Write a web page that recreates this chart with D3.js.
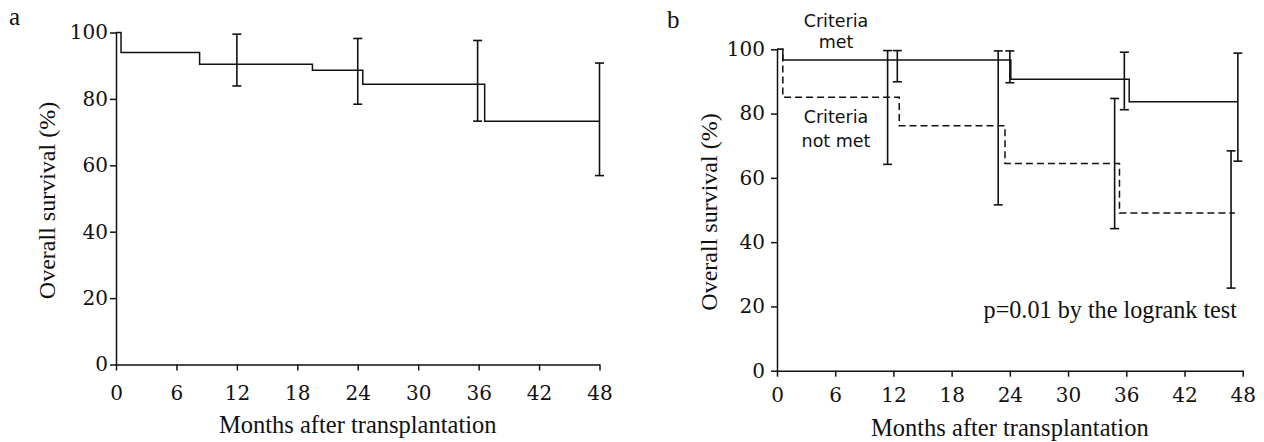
<!DOCTYPE html>
<html><head><meta charset="utf-8">
<script src="https://cdn.jsdelivr.net/npm/d3@7"></script>
<style>
body{margin:0;background:#fff}
text{fill:#111}
</style>
</head><body><svg id="c" width="1264" height="442"></svg>
<script>
// ---------- data ----------
const monthTicks = [0, 6, 12, 18, 24, 30, 36, 42, 48];
const survTicks = [0, 20, 40, 60, 80, 100];

// Panel a: overall survival (step points: time, survival after step)
const aStepTimes = [0, 0.5, 8.3, 19.5, 24.5, 36.6, 48];
const aStepSurv  = [100, 94.0, 90.4, 88.6, 84.4, 73.3, 73.3];
const aBarTimes  = [12.0, 24.0, 35.9, 48.0];
const aBarUpper  = [99.5, 98.2, 97.6, 90.8];
const aBarLower  = [83.9, 78.4, 73.3, 56.9];

// Panel b: criteria met (solid)
const metTimes   = [0, 0.6, 24.1, 36.3, 47.5];
const metSurv    = [100, 96.7, 90.7, 83.7, 83.7];
const metBarTimes = [12.4, 24.0, 35.8, 47.5];
const metBarUpper = [99.6, 99.5, 99.1, 98.8];
const metBarLower = [89.9, 89.6, 81.2, 65.2];

// Panel b: criteria not met (dashed)
const notTimes   = [0, 0.6, 12.6, 23.5, 35.3, 47.2];
const notSurv    = [100, 85.1, 76.2, 64.5, 49.1, 49.1];
const notBarTimes = [11.4, 22.8, 34.8, 46.8];
const notBarUpper = [99.6, 99.5, 84.7, 68.4];
const notBarLower = [64.2, 51.6, 44.2, 25.7];

const xTitle = "Months after transplantation";
const yTitle = "Overall survival (%)";
const pText = "p=0.01 by the logrank test";

// ---------- drawing ----------
const svg = d3.select("#c");
const SERIF = "'Liberation Serif', 'DejaVu Serif', serif";
const TICKFONT = "'DejaVu Serif', serif";
const SANS = "'DejaVu Sans', sans-serif";

function panel(cfg) {
  const x = d3.scaleLinear().domain([0, 48]).range([cfg.x0, cfg.x1]);
  const y = d3.scaleLinear().domain([0, 100]).range([cfg.y0, cfg.y1]);
  const g = svg.append("g");

  const ya = g.append("g").attr("transform", `translate(${cfg.x0},0)`)
    .call(d3.axisLeft(y).tickValues(survTicks).tickSize(6).tickSizeOuter(0).tickPadding(cfg.yPad));
  const xa = g.append("g").attr("transform", `translate(0,${cfg.y0})`)
    .call(d3.axisBottom(x).tickValues(monthTicks).tickSize(6).tickSizeOuter(0).tickPadding(cfg.xPad));
  [ya, xa].forEach(a => {
    a.selectAll("path,line").attr("stroke", "#111").attr("stroke-width", 1.5);
    a.selectAll("text").attr("font-family", TICKFONT).attr("font-size", 20).attr("fill", "#111");
  });

  const line = d3.line().x(d => x(d[0])).y(d => y(d[1])).curve(d3.curveStepAfter);
  cfg.curves.forEach(c => {
    g.append("path").datum(d3.zip(c.t, c.s)).attr("d", line)
      .attr("fill", "none").attr("stroke", "#111").attr("stroke-width", 1.5)
      .attr("stroke-dasharray", c.dash || null);
    const bars = d3.zip(c.bt, c.bl, c.bu);
    const bg = g.append("g").attr("stroke", "#111").attr("stroke-width", 1.6);
    bg.selectAll(".v").data(bars).join("line")
      .attr("x1", d => x(d[0])).attr("x2", d => x(d[0]))
      .attr("y1", d => y(d[1])).attr("y2", d => y(d[2]));
    bg.selectAll(".lo").data(bars).join("line")
      .attr("x1", d => x(d[0]) - 4.5).attr("x2", d => x(d[0]) + 4.5)
      .attr("y1", d => y(d[1])).attr("y2", d => y(d[1]));
    bg.selectAll(".hi").data(bars).join("line")
      .attr("x1", d => x(d[0]) - 4.5).attr("x2", d => x(d[0]) + 4.5)
      .attr("y1", d => y(d[2])).attr("y2", d => y(d[2]));
  });

  g.append("text").text(xTitle).attr("x", (cfg.x0 + cfg.x1) / 2).attr("y", cfg.xTitleY)
    .attr("text-anchor", "middle").attr("font-family", SERIF).attr("font-size", 24.5);
  g.append("text").text(yTitle)
    .attr("transform", `translate(${cfg.yTitleX},${(cfg.y0 + cfg.y1) / 2 + 2}) rotate(-90)`)
    .attr("text-anchor", "middle").attr("font-family", SERIF).attr("font-size", 24);
  g.append("text").text(cfg.label).attr("x", cfg.labelX).attr("y", cfg.labelY)
    .attr("font-family", SERIF).attr("font-size", 25);
  return {x, y, g};
}

panel({
  x0: 116, x1: 599.5, y0: 364.5, y1: 32.5, yPad: 2, xPad: 15,
  xTitleY: 433, yTitleX: 55, label: "a", labelX: 9, labelY: 25,
  curves: [{t: aStepTimes, s: aStepSurv, bt: aBarTimes, bl: aBarLower, bu: aBarUpper}]
});

const pb = panel({
  x0: 777, x1: 1242.7, y0: 370.7, y1: 49.3, yPad: 6, xPad: 11,
  xTitleY: 436, yTitleX: 716.5, label: "b", labelX: 667, labelY: 28,
  curves: [
    {t: metTimes, s: metSurv, bt: metBarTimes, bl: metBarLower, bu: metBarUpper},
    {t: notTimes, s: notSurv, bt: notBarTimes, bl: notBarLower, bu: notBarUpper, dash: "7,4"}
  ]
});

const ann = [
  {t: "Criteria", x: 836, y: 27},
  {t: "met", x: 836, y: 47.5},
  {t: "Criteria", x: 836, y: 123},
  {t: "not met", x: 836, y: 147}
];
pb.g.selectAll(".ann").data(ann).join("text")
  .attr("x", d => d.x).attr("y", d => d.y).text(d => d.t)
  .attr("text-anchor", "middle").attr("font-family", SANS).attr("font-size", 17.5);
pb.g.append("text").text(pText).attr("x", 1237).attr("y", 318)
  .attr("text-anchor", "end").attr("font-family", SERIF).attr("font-size", 24.2);
</script>
</body></html>
